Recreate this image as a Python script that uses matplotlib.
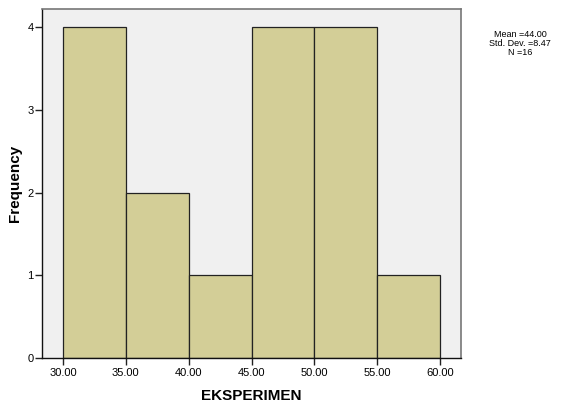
import matplotlib
matplotlib.use('Agg')
import matplotlib.pyplot as plt

plt.rcParams['font.family'] = ['Liberation Sans', 'DejaVu Sans']

# histogram bins and counts
bin_edges = [30, 35, 40, 45, 50, 55, 60]
counts = [4, 2, 1, 4, 4, 1]
xticks = [30, 35, 40, 45, 50, 55, 60]
yticks = [0, 1, 2, 3, 4]
stats = ['Mean =44.00', 'Std. Dev. =8.47', 'N =16']

fig = plt.figure(figsize=(5.72, 4.07), dpi=100)
ax = fig.add_axes([0.0734, 0.1204, 0.7326, 0.8576])
ax.set_facecolor('#f0f0f0')

lefts = bin_edges[:-1]
widths = [b - a for a, b in zip(bin_edges[:-1], bin_edges[1:])]
ax.bar(lefts, counts, width=widths, align='edge', color='#d3ce97',
       edgecolor='#222222', linewidth=0.9)

ax.set_xlim(28.33, 61.67)
ax.set_ylim(0, 4.22)
ax.set_xticks(xticks)
ax.set_xticklabels(['%.2f' % v for v in xticks])
ax.set_yticks(yticks)
ax.tick_params(labelsize=8, length=5, width=1, color='#222222')
ax.tick_params(axis='x', pad=2)
ax.tick_params(axis='y', pad=1)

for s in ['left', 'bottom']:
    ax.spines[s].set_color('#111111')
    ax.spines[s].set_linewidth(1)
for s in ['top', 'right']:
    ax.spines[s].set_color('#777777')
    ax.spines[s].set_linewidth(1.2)

ax.set_ylabel('Frequency', fontsize=11, fontweight='bold', labelpad=4)
ax.set_xlabel('EKSPERIMEN', fontsize=11, fontweight='bold', labelpad=8)

fig.text(0.909, 0.892, '\n'.join(stats), ha='center', va='center',
         fontsize=6.5, linespacing=1.0)

fig.savefig('out.png', dpi=100)
